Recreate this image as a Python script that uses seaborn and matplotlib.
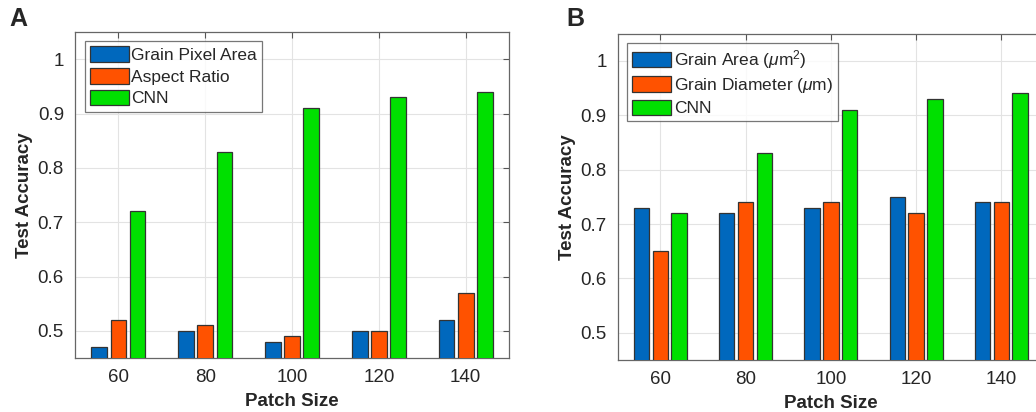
import pandas as pd
import numpy as np
import matplotlib
matplotlib.use("Agg")
import matplotlib.pyplot as plt
import seaborn as sns

# Datos
patch_sizes = ["60", "80", "100", "120", "140"]

pixel_area = [0.47, 0.50, 0.48, 0.50, 0.52]
aspect_ratio = [0.52, 0.51, 0.49, 0.50, 0.57]
cnn_a = [0.72, 0.83, 0.91, 0.93, 0.94]

grain_area = [0.73, 0.72, 0.73, 0.75, 0.74]
grain_diam = [0.65, 0.74, 0.74, 0.72, 0.74]
cnn_b = [0.72, 0.83, 0.91, 0.93, 0.94]

labels_a = ["Grain Pixel Area", "Aspect Ratio", "CNN"]
labels_b = [r"Grain Area ($\mu$m$^2$)", r"Grain Diameter ($\mu$m)", "CNN"]

colores = ["#0068BD", "#FF5200", "#00E000"]

sns.set_theme(style="white")
plt.rcParams["font.family"] = ["Liberation Sans", "DejaVu Sans"]
plt.rcParams["mathtext.fontset"] = "custom"
plt.rcParams["mathtext.rm"] = "Liberation Sans"
plt.rcParams["mathtext.it"] = "Liberation Sans:italic"


def armar_df(series, etiquetas):
    filas = []
    for vals, lab in zip(series, etiquetas):
        for p, v in zip(patch_sizes, vals):
            filas.append({"Patch Size": p, "Test Accuracy": v, "Metodo": lab})
    return pd.DataFrame(filas)


df_a = armar_df([pixel_area, aspect_ratio, cnn_a], labels_a)
df_b = armar_df([grain_area, grain_diam, cnn_b], labels_b)

fig = plt.figure(figsize=(10.36, 4.12), dpi=100)
ax_a = fig.add_axes([0.0724, 0.131, 0.419, 0.791])
ax_b = fig.add_axes([0.5962, 0.126, 0.4115, 0.7925])

for ax, df, etiquetas in [(ax_a, df_a, labels_a), (ax_b, df_b, labels_b)]:
    sns.barplot(data=df, x="Patch Size", y="Test Accuracy", hue="Metodo",
                order=patch_sizes, hue_order=etiquetas, palette=colores,
                width=0.66, gap=0.18, edgecolor="#333333", linewidth=0.9,
                saturation=1, ax=ax, zorder=3)
    ax.set_xlim(-0.5, 4.5)
    ax.set_ylim(0.45, 1.05)
    ax.set_yticks([0.5, 0.6, 0.7, 0.8, 0.9, 1.0])
    ax.set_yticklabels(["0.5", "0.6", "0.7", "0.8", "0.9", "1"])
    ax.grid(True, color="#e3e3e3", linewidth=0.8, zorder=0)
    ax.set_axisbelow(True)
    ax.tick_params(direction="in", length=4, width=0.8, color="#555555",
                   top=True, right=True, labelsize=13.5, labelcolor="#262626")
    ax.tick_params(axis="x", pad=8)
    ax.tick_params(axis="y", pad=8)
    for s in ax.spines.values():
        s.set_color("#666666")
        s.set_linewidth(0.9)
    ax.set_xlabel("Patch Size", fontsize=13.5, fontweight="bold", color="#262626", labelpad=5)
    ax.set_ylabel("Test Accuracy", fontsize=13.5, fontweight="bold", color="#262626", labelpad=3)
    leg = ax.legend(loc="upper left", bbox_to_anchor=(0.022, 0.972), fontsize=12.5,
                    frameon=True, fancybox=False, edgecolor="#555555",
                    handlelength=2.25, handleheight=1.0, handletextpad=0.15,
                    labelspacing=0.28, borderpad=0.3, borderaxespad=0)
    leg.get_frame().set_linewidth(0.9)
    for t in leg.get_texts():
        t.set_color("#262626")

fig.text(0.009, 0.955, "A", fontsize=18, fontweight="bold", va="center", ha="left")
fig.text(0.547, 0.955, "B", fontsize=18, fontweight="bold", va="center", ha="left")

fig.savefig("out.png", dpi=100)
